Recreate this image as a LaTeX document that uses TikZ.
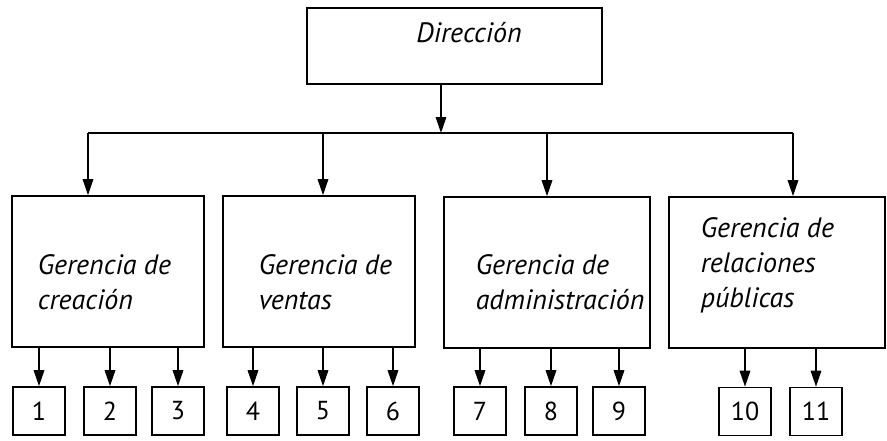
\documentclass[tikz,border=0pt]{standalone}
\usepackage{fontspec}
\setmainfont{PT Sans}
\usetikzlibrary{arrows.meta}
\begin{document}
\begin{tikzpicture}[x=1pt,y=-1pt,
  line width=1.6pt,
  arr/.style={-{Triangle[length=16pt,width=10.5pt]}},
  bigbox/.style={draw,minimum width=#1,minimum height=151pt,inner sep=0pt},
  smallbox/.style={draw,minimum width=52pt,minimum height=48pt,inner sep=0pt,font=\fontsize{26}{26}\selectfont},
  lbl/.style={anchor=west,align=left,inner sep=0pt,font=\fontsize{28}{35}\selectfont\itshape}]
\useasboundingbox (0,0) rectangle (887,440);
% top
\node[draw,minimum width=295pt,minimum height=76pt,inner sep=0pt] (dir) at (454.5,46) {};
\node[lbl,anchor=center] (dirt) at (469,33) {Dirección};
% managers
\node[bigbox=192pt] (g1) at (108,271.5) {};
\node[bigbox=192pt] (g2) at (319,271.5) {};
\node[bigbox=206pt] (g3) at (547,272.5) {};
\node[bigbox=216pt] (g4) at (777,272.5) {};
\node[lbl] (g1t) at (37,282) {Gerencia de\\creación};
\node[lbl] (g2t) at (258,282) {Gerencia de\\ventas};
\node[lbl] (g3t) at (475,282) {Gerencia de\\administración};
\node[lbl] (g4t) at (700,265) {Gerencia de\\relaciones\\públicas};
% junction
\coordinate (j) at (441,133);
\coordinate (b1) at (88,133);
\coordinate (b2) at (323,133);
\coordinate (b3) at (547,133);
\coordinate (b4) at (793,133);
\draw[arr] (dir.south -| j) -- (j);
\draw (b1) -- (b4);
\draw[arr] (b1) -- (b1 |- g1.north);
\draw[arr] (b2) -- (b2 |- g2.north);
\draw[arr] (b3) -- (b3 |- g3.north);
\draw[arr] (b4) -- (b4 |- g4.north);
% small boxes
\node[smallbox] (n1) at (39,411) {1};
\node[smallbox] (n2) at (110,411) {2};
\node[smallbox] (n3) at (178,411) {3};
\node[smallbox] (n4) at (253,411) {4};
\node[smallbox] (n5) at (323,411) {5};
\node[smallbox] (n6) at (393,411) {6};
\node[smallbox] (n7) at (480,411) {7};
\node[smallbox] (n8) at (551,411) {8};
\node[smallbox] (n9) at (619,411) {9};
\node[smallbox] (n10) at (745,411.5) {10};
\node[smallbox] (n11) at (816,411.5) {11};
\foreach \g/\n in {g1/n1,g1/n2,g1/n3,g2/n4,g2/n5,g2/n6,g3/n7,g3/n8,g3/n9,g4/n10,g4/n11}
  \draw[arr] (\n.north |- \g.south) -- (\n.north);
\end{tikzpicture}
\end{document}
